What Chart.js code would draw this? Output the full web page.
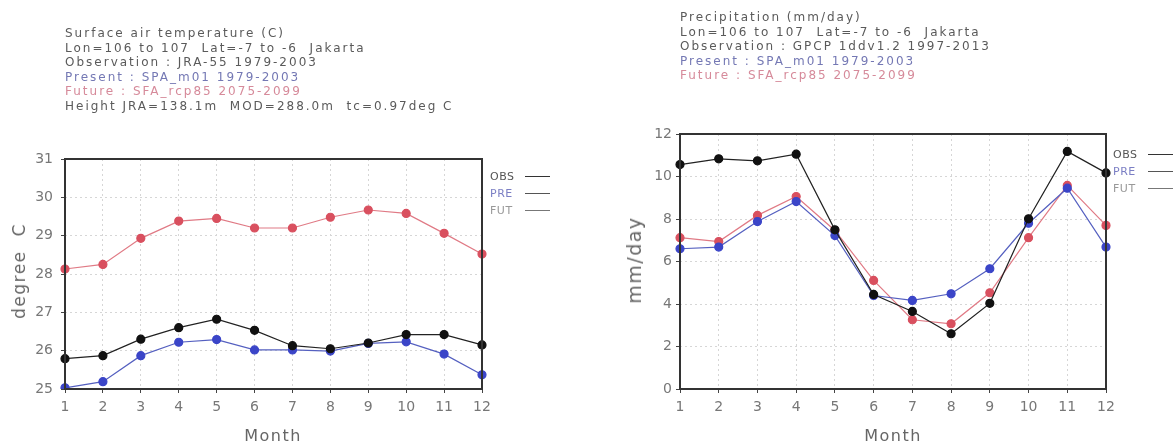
<!DOCTYPE html>
<html>
<head>
<meta charset="utf-8">
<script src="https://cdn.jsdelivr.net/npm/chart.js@4"></script>
<style>
  body { margin: 0; background: #fff; width: 1173px; height: 441px; overflow: hidden; position: relative; font-family: "DejaVu Sans", sans-serif; }
  .box { position: absolute; top: 0; height: 441px; }
  .head { position: absolute; font-size: 12px; line-height: 14.6px; letter-spacing: 2px; color: #5a5a5a; white-space: pre; }
  .blue { color: #7478b4; }
  .pink { color: #d68a9a; }
  .leg { position: absolute; font-size: 11px; line-height: 17px; letter-spacing: 0.5px; color: #555; }
  .leg div { position: relative; }
  .leg span.l { position: absolute; left: 35px; top: 8px; width: 25px; height: 0; border-top: 1.5px solid #333; }
  .atitle { position: absolute; font-size: 16px; letter-spacing: 1.5px; color: #666; white-space: pre; transform: translate(-50%, -50%); }
  .rot { transform: translate(-50%, -50%) rotate(-90deg); }
</style>
</head>
<body>
<div class="box" style="left:0;width:580px"><canvas id="tempChart"></canvas></div>
<div class="box" style="left:580px;width:593px"><canvas id="precChart"></canvas></div>

<div class="head" style="left:65px;top:26px">Surface air temperature (C)
Lon=106 to 107  Lat=-7 to -6  Jakarta
Observation : JRA-55 1979-2003
<span class="blue">Present : SPA_m01 1979-2003</span>
<span class="pink">Future : SFA_rcp85 2075-2099</span>
Height JRA=138.1m  MOD=288.0m  tc=0.97deg C</div>

<div class="head" style="left:680px;top:10px">Precipitation (mm/day)
Lon=106 to 107  Lat=-7 to -6  Jakarta
Observation : GPCP 1ddv1.2 1997-2013
<span class="blue">Present : SPA_m01 1979-2003</span>
<span class="pink">Future : SFA_rcp85 2075-2099</span></div>

<div class="leg" style="left:490px;top:168px">
  <div>OBS<span class="l"></span></div>
  <div style="color:#7b7fc4">PRE<span class="l" style="border-color:#555"></span></div>
  <div style="color:#999">FUT<span class="l" style="border-color:#777"></span></div>
</div>
<div class="leg" style="left:1113px;top:146px">
  <div>OBS<span class="l"></span></div>
  <div style="color:#7b7fc4">PRE<span class="l" style="border-color:#555"></span></div>
  <div style="color:#999">FUT<span class="l" style="border-color:#777"></span></div>
</div>

<div class="atitle rot" style="left:19px;top:271px;font-size:17px">degree  C</div>
<div class="atitle rot" style="left:634px;top:260px;font-size:19px">mm/day</div>
<div class="atitle" style="left:273px;top:435px">Month</div>
<div class="atitle" style="left:893px;top:435px">Month</div>

<script>
const months = ["1", "2", "3", "4", "5", "6", "7", "8", "9", "10", "11", "12"];

// surface air temperature (degree C)
const tempObs = [25.79, 25.87, 26.3, 26.6, 26.82, 26.53, 26.13, 26.05, 26.2, 26.42, 26.42, 26.15];
const tempPre = [25.03, 25.19, 25.87, 26.22, 26.29, 26.02, 26.02, 25.99, 26.19, 26.23, 25.91, 25.37];
const tempFut = [28.13, 28.25, 28.93, 29.38, 29.45, 29.2, 29.2, 29.48, 29.67, 29.58, 29.06, 28.52];
const tempTicks = [25, 26, 27, 28, 29, 30, 31];

// precipitation (mm/day)
const precObs = [10.56, 10.83, 10.74, 11.05, 7.49, 4.45, 3.65, 2.6, 4.03, 8.01, 11.18, 10.17];
const precPre = [6.6, 6.68, 7.88, 8.82, 7.22, 4.4, 4.17, 4.48, 5.66, 7.8, 9.45, 6.68];
const precFut = [7.12, 6.94, 8.17, 9.06, 7.46, 5.11, 3.26, 3.07, 4.53, 7.12, 9.58, 7.7];
const precTicks = [0, 2, 4, 6, 8, 10, 12];

Chart.defaults.font.family = "'DejaVu Sans', sans-serif";
Chart.defaults.color = "#666";

// thick dark frame round the plot area
const framePlugin = {
  id: "frame",
  afterDraw(chart) {
    const { ctx, chartArea: a } = chart;
    ctx.save();
    ctx.strokeStyle = "#333";
    ctx.lineWidth = 2;
    ctx.strokeRect(a.left, a.top, a.right - a.left, a.bottom - a.top);
    ctx.restore();
  },
};

function series(label, data, color, lineColor) {
  return {
    label: label,
    data: data,
    borderColor: lineColor,
    backgroundColor: color,
    pointBackgroundColor: color,
    pointBorderColor: color,
    pointRadius: 4,
    borderWidth: 1.2,
    tension: 0,
  };
}

function makeChart(canvasId, obs, pre, fut, ticks, area) {
  const ctx = document.getElementById(canvasId).getContext("2d");
  return new Chart(ctx, {
    type: "line",
    data: {
      labels: months,
      datasets: [
        series("OBS", obs, "#111", "#222"),
        series("PRE", pre, "#3b45c8", "#5560c0"),
        series("FUT", fut, "#d9505f", "#e07a85"),
      ],
    },
    options: {
      responsive: false,
      animation: false,
      layout: { padding: { left: 0, top: area.top, right: area.right, bottom: 0 } },
      plugins: { legend: { display: false }, tooltip: { enabled: false } },
      scales: {
        x: {
          offset: false,
          afterFit: (s) => { s.height = area.bottom; },
          grid: { color: "#d6d6d6", tickLength: 4, tickColor: "#444" },
          border: { display: false, dash: [2, 3] },
          ticks: { font: { size: 14 }, color: "#777", padding: 6, maxRotation: 0 },
        },
        y: {
          min: ticks[0],
          max: ticks[ticks.length - 1],
          afterBuildTicks: (s) => { s.ticks = ticks.map((v) => ({ value: v })); },
          afterFit: (s) => { s.width = area.left; },
          grid: { color: "#d6d6d6", tickLength: 4, tickColor: "#444" },
          border: { display: false, dash: [2, 3] },
          ticks: { font: { size: 14 }, color: "#777", padding: area.ypad },
        },
      },
    },
    plugins: [framePlugin],
  });
}

const c1 = document.getElementById("tempChart");
c1.width = 580; c1.height = 441;
const c2 = document.getElementById("precChart");
c2.width = 593; c2.height = 441;

makeChart("tempChart", tempObs, tempPre, tempFut, tempTicks,
  { left: 65, top: 159, right: 98, bottom: 52, ypad: 8 });
makeChart("precChart", precObs, precPre, precFut, precTicks,
  { left: 100, top: 134, right: 67, bottom: 52, ypad: 4 });
</script>
</body>
</html>
